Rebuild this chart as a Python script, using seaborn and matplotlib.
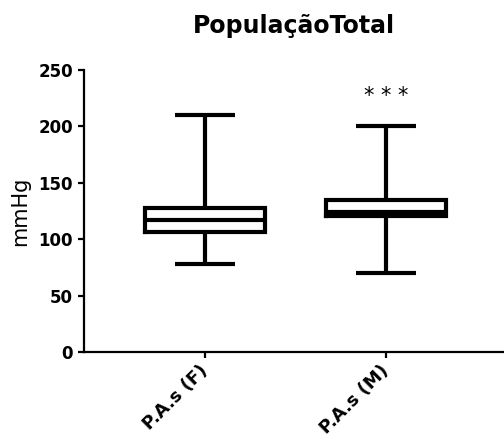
import matplotlib
matplotlib.use("Agg")
import matplotlib.pyplot as plt
import seaborn as sns
import pandas as pd

# Five-number summaries (min, Q1, median, Q3, max) of systolic pressure, mmHg
groups = ["P.A.s (F)", "P.A.s (M)"]
summary_f = [78, 106, 117, 128, 210]
summary_m = [70, 121, 124, 135, 200]
significance = "* * *"
sig_level = 227

sns.set_theme(style="ticks")
plt.rcParams["font.family"] = ["DejaVu Sans"]
plt.rcParams["text.color"] = "black"
plt.rcParams["axes.labelcolor"] = "black"

df = pd.DataFrame({
    "grupo": [groups[0]] * len(summary_f) + [groups[1]] * len(summary_m),
    "valor": summary_f + summary_m,
})

fig = plt.figure(figsize=(5.04, 4.41), dpi=100)
ax = fig.add_axes([84 / 504, 89 / 441, 420 / 504, 282 / 441])

line_style = dict(solid_capstyle="butt", solid_joinstyle="miter")
sns.boxplot(
    data=df, x="grupo", y="valor", ax=ax,
    whis=(0, 100), width=0.663, fill=False,
    color="black", linecolor="black", linewidth=3,
    whiskerprops=line_style, capprops=line_style, medianprops=line_style,
    boxprops=dict(solid_joinstyle="miter", solid_capstyle="projecting"),
)

ax.set_ylim(0, 250)
ax.set_xlim(-0.6685, 1.652)
ax.set_yticks([0, 50, 100, 150, 200, 250])

ax.text(1, sig_level, significance, ha="center", va="center",
        fontsize=15, color="black")

ax.set_title("PopulaçãoTotal", fontsize=17, fontweight="bold", pad=27,
             color="black")
ax.set_ylabel("mmHg", fontsize=15, labelpad=6, color="black")
ax.set_xlabel("")

for side in ["top", "right"]:
    ax.spines[side].set_visible(False)
for side in ["left", "bottom"]:
    ax.spines[side].set_linewidth(1.6)
    ax.spines[side].set_color("black")

ax.tick_params(axis="both", length=4.5, width=1.6, color="black",
               labelsize=12, labelcolor="black")
ax.tick_params(axis="x", labelsize=13, pad=7)
for lab in ax.get_yticklabels():
    lab.set_fontweight("bold")
for lab in ax.get_xticklabels():
    lab.set_fontweight("bold")
    lab.set_rotation(45)
    lab.set_rotation_mode("anchor")
    lab.set_ha("right")
    lab.set_va("center")

fig.savefig("out.png", dpi=100, facecolor="white")
